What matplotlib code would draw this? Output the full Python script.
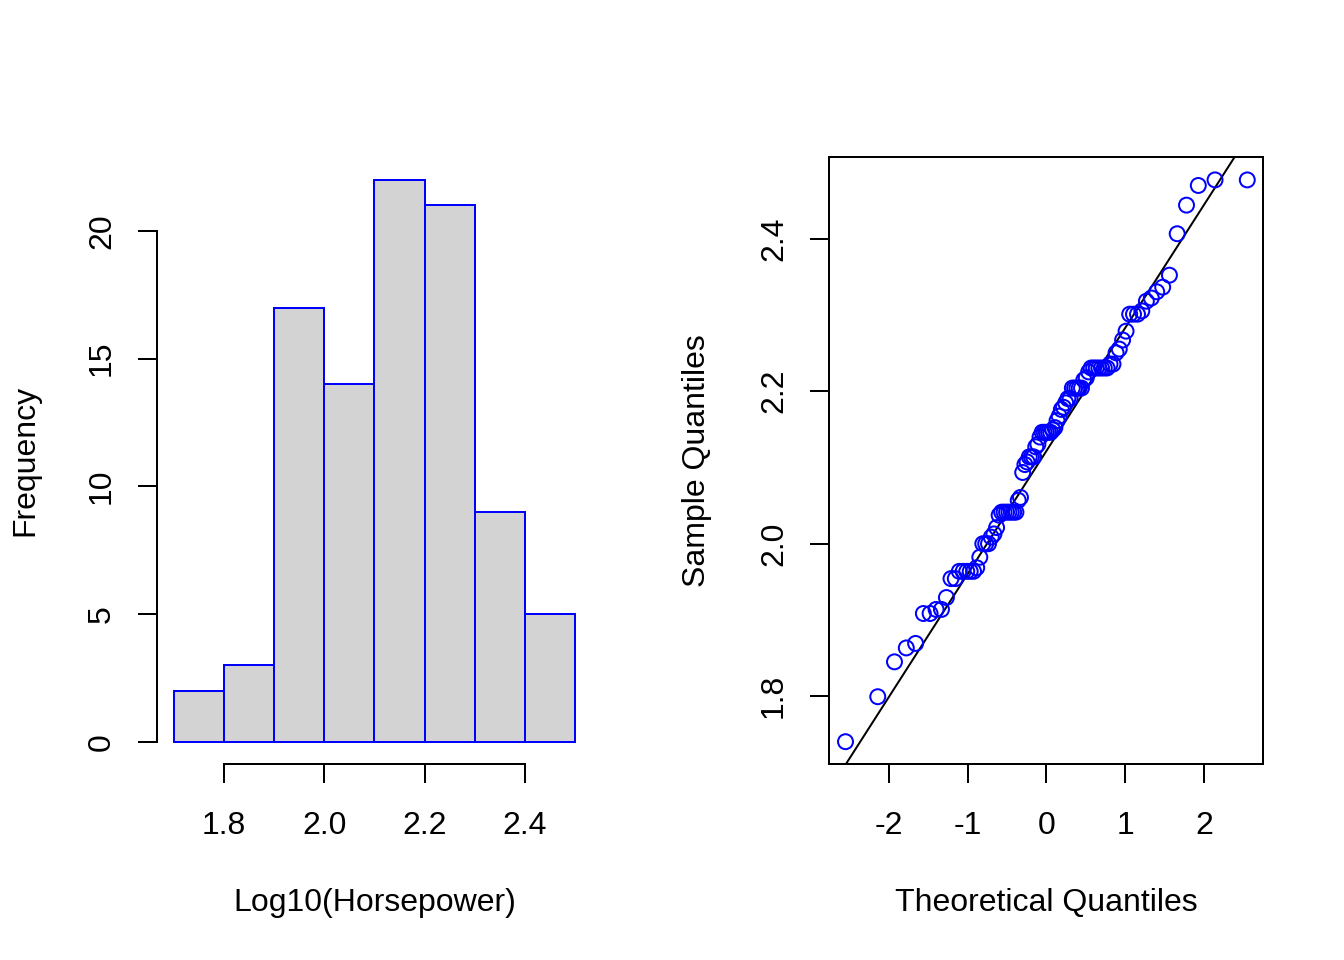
import numpy as np
import matplotlib
matplotlib.use("Agg")
import matplotlib.pyplot as plt
from statistics import NormalDist

# Cars93 horsepower (93 cars)
horsepower = [140, 200, 172, 172, 208, 110, 170, 180, 170, 200, 295, 110, 110, 160, 110,
              170, 165, 170, 300, 153, 141, 147, 92, 93, 100, 142, 100, 300, 92, 214,
              63, 127, 96, 105, 115, 145, 140, 190, 55, 90, 160, 102, 140, 81, 124,
              92, 128, 278, 185, 225, 160, 210, 82, 103, 164, 155, 255, 130, 217, 100,
              140, 92, 202, 110, 150, 151, 160, 155, 110, 170, 170, 92, 74, 110, 160,
              200, 170, 140, 85, 73, 90, 130, 70, 82, 135, 130, 138, 81, 109, 134,
              178, 114, 168]
bin_edges = [1.7, 1.8, 1.9, 2.0, 2.1, 2.2, 2.3, 2.4, 2.5]
hist_xticks = [1.8, 2.0, 2.2, 2.4]
hist_yticks = [0, 5, 10, 15, 20]
qq_xticks = [-2, -1, 0, 1, 2]
qq_yticks = [1.8, 2.0, 2.2, 2.4]

plt.rcParams['font.family'] = ['Liberation Sans', 'DejaVu Sans']
plt.rcParams['font.size'] = 12

W, H = 7.0, 5.0
fig = plt.figure(figsize=(W, H), dpi=192)
line = 0.2  # inch
mar_b, mar_l, mar_t, mar_r = 5.1 * line, 4.1 * line, 4.1 * line, 2.1 * line
pw = 3.5 - mar_l - mar_r
ph = H - mar_b - mar_t

y = np.log10(np.array(horsepower, dtype=float))

def style_axis(ax):
    ax.tick_params(axis='both', direction='out', length=7.2, width=0.75, color='black',
                   labelsize=12)
    ax.tick_params(axis='x', pad=10.5)
    ax.tick_params(axis='y', pad=8)
    for lbl in ax.get_yticklabels():
        lbl.set_rotation(90)
        lbl.set_va('center')

# ---- Histogram ----
ax1 = fig.add_axes([mar_l / W, mar_b / H, pw / W, ph / H])
# R's hist uses right-closed bins
counts = np.array([np.sum((y > bin_edges[i]) & (y <= bin_edges[i + 1])) if i > 0
                   else np.sum((y >= bin_edges[i]) & (y <= bin_edges[i + 1]))
                   for i in range(len(bin_edges) - 1)])
widths = np.diff(bin_edges)
ax1.bar(bin_edges[:-1], counts, width=widths, align='edge', color='#D3D3D3',
        edgecolor='blue', linewidth=0.75)
xr = bin_edges[-1] - bin_edges[0]
ax1.set_xlim(bin_edges[0] - 0.04 * xr, bin_edges[-1] + 0.04 * xr)
ymax = counts.max()
ax1.set_ylim(-0.04 * ymax, ymax * 1.04)
for s in ['top', 'right']:
    ax1.spines[s].set_visible(False)
for s in ['left', 'bottom']:
    ax1.spines[s].set_linewidth(0.75)
ax1.spines['bottom'].set_bounds(hist_xticks[0], hist_xticks[-1])
ax1.spines['left'].set_bounds(hist_yticks[0], hist_yticks[-1])
ax1.set_xticks(hist_xticks)
ax1.set_xticklabels(['%.1f' % v for v in hist_xticks])
ax1.set_yticks(hist_yticks)
ax1.set_yticklabels([str(v) for v in hist_yticks])
style_axis(ax1)
cx1 = (mar_l + pw / 2) / W
fig.text(cx1, 57 / 960, 'Log10(Horsepower)', ha='center', va='center', fontsize=12)
fig.text(25 / 1344, (mar_b + ph / 2) / H, 'Frequency', ha='center', va='center',
         rotation=90, fontsize=12)

# ---- QQ plot ----
ax2 = fig.add_axes([(3.5 + mar_l) / W, mar_b / H, pw / W, ph / H])
n = len(y)
nd = NormalDist()
order = np.argsort(y, kind='stable')
ys = y[order]
theo = np.array([nd.inv_cdf((i + 0.5) / n) for i in range(n)])
ax2.scatter(theo, ys, s=5.6 ** 2, facecolors='none', edgecolors='blue', linewidths=0.75,
            zorder=3)
q1, q3 = np.quantile(y, [0.25, 0.75])
x1, x3 = nd.inv_cdf(0.25), nd.inv_cdf(0.75)
slope = (q3 - q1) / (x3 - x1)
inter = q1 - slope * x1
ax2.axline((0, inter), slope=slope, color='black', linewidth=0.75, zorder=2)
xr2 = theo.max() - theo.min()
ax2.set_xlim(theo.min() - 0.04 * xr2, theo.max() + 0.04 * xr2)
yr2 = ys.max() - ys.min()
ax2.set_ylim(ys.min() - 0.04 * yr2, ys.max() + 0.04 * yr2)
for s in ax2.spines.values():
    s.set_linewidth(0.75)
ax2.set_xticks(qq_xticks)
ax2.set_xticklabels([str(v) for v in qq_xticks])
ax2.set_yticks(qq_yticks)
ax2.set_yticklabels(['%.1f' % v for v in qq_yticks])
style_axis(ax2)
cx2 = (3.5 + mar_l + pw / 2) / W
fig.text(cx2, 57 / 960, 'Theoretical Quantiles', ha='center', va='center', fontsize=12)
fig.text(697 / 1344, (mar_b + ph / 2) / H, 'Sample Quantiles', ha='center', va='center',
         rotation=90, fontsize=12)

fig.savefig('out.png', dpi=192)
